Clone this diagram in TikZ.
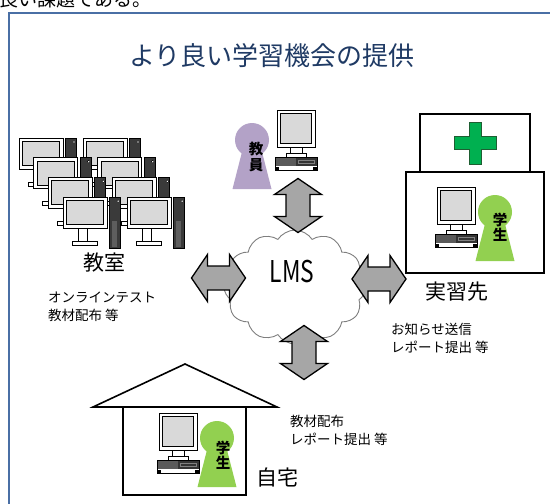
\documentclass[tikz,border=0pt]{standalone}
\usepackage{fontspec}
\setmainfont{Noto Sans CJK JP}
\usetikzlibrary{shapes.symbols}

\definecolor{frameblue}{HTML}{4A6FA5}
\definecolor{titlenavy}{HTML}{1F3A64}
\definecolor{screen}{HTML}{D9D9D9}
\definecolor{arrowgray}{HTML}{A6A6A6}
\definecolor{teacherpurple}{HTML}{B3A2C7}
\definecolor{studentgreen}{HTML}{92D050}
\definecolor{crossgreen}{HTML}{00B050}
\definecolor{crossedge}{HTML}{1E5E32}
\definecolor{cloudgray}{HTML}{7F7F7F}
\definecolor{towerdark}{HTML}{3A3A3A}
\definecolor{towermid}{HTML}{5E5E5E}
\definecolor{caseleft}{HTML}{5A5A5A}
\definecolor{caseright}{HTML}{333333}

\tikzset{
  pcline/.style={draw=black, line width=0.9pt},
  boxline/.style={draw=black, line width=1.8pt},
  fatarrow/.style={draw=black, fill=arrowgray, line width=1.3pt, line join=miter},
  bigtext/.style={font=\fontsize{21}{24}\selectfont, inner sep=0pt},
  smalltext/.style={font=\fontsize{13.5}{17.5}\selectfont, align=left, inner sep=0pt},
  keytext/.style={font=\fontsize{14.5}{15.5}\selectfont\bfseries, align=center, inner sep=0pt},
  % monitor on a stand with a tower case beside it
  pics/towerpc/.style={code={
    \draw[pcline, fill=white] (0,0) rectangle (44,31);
    \draw[pcline, fill=screen] (3.5,3.5) rectangle (40.5,27.5);
    \draw[pcline, fill=white] (15,31) rectangle (24,44);
    \draw[pcline, fill=white] (9,44) rectangle (34,48);
    \draw[pcline, fill=towerdark] (46.5,0) rectangle (57.5,51);
    \fill[towermid] (48.5,24) rectangle (53.5,49.5);
    \draw[fill=white, line width=0.4pt] (55,4) circle (1.4pt);
  }},
  % monitor standing on a flat desktop case
  pics/deskpc/.style={code={
    \draw[pcline, fill=white] (0,0) rectangle (38,37);
    \draw[pcline, fill=screen] (3.5,3.5) rectangle (34.5,33);
    \draw[pcline, fill=white] (13,37) rectangle (25,43);
    \draw[pcline, fill=white] (9,43) rectangle (29,47);
    \draw[pcline, fill=white] (-2,47) rectangle (40,60);
    \fill[caseleft] (-1.5,47.5) rectangle (19,55.5);
    \fill[caseright] (19,47.5) rectangle (39.5,55.5);
    \draw[gray, line width=0.5pt] (21,50) rectangle (37.5,53.5);
    \fill[black] (-2,56.5) rectangle (2,60);
    \fill[black] (36,56.5) rectangle (40,60);
  }},
  % person silhouette in keyhole form
  pics/keyhole/.style={code={
    \fill[#1] (0,0) circle (17pt);
    \fill[#1] (-9,8) -- (9,8) -- (19.5,49) -- (-19.5,49) -- cycle;
  }},
  % thick grey double-headed arrow, 54 long
  pics/dblarrow/.style={code={
    \draw[fatarrow] (-27,0) -- (-11,-23.5) -- (-11,-12) -- (11,-12) -- (11,-23.5)
      -- (27,0) -- (11,23.5) -- (11,12) -- (-11,12) -- (-11,23.5) -- cycle;
  }}
}

\begin{document}
\begin{tikzpicture}[x=1pt, y=-1pt]
\useasboundingbox (0,0) rectangle (550,504);
\clip (0,0) rectangle (550,504);

% line of body text above the frame
\node[anchor=base west, inner sep=0pt, font=\fontsize{19}{21}\selectfont] (bodyline) at (-1,6) {良い課題である。};

% outer frame
\draw[frameblue, line width=1.6pt] (9,560) -- (9,13) -- (600,13);

% title
\node[font=\fontsize{26}{30}\selectfont, text=titlenavy, inner sep=0pt] (title) at (272,56) {より良い学習機会の提供};

% classroom: rows of computers
\foreach \r in {0,...,3}{
  \foreach \c in {0,1}{
    \pic at ({19+14.7*\r+64*\c},{138+19.7*\r}) {towerpc};
  }
}
\node[bigtext] (classroom) at (104.5,263) {教室};
\node[smalltext, anchor=north west] (classnote) at (48,292) {オンラインテスト\\教材配布 等};

% teacher
\pic at (252,140) {keyhole=teacherpurple};
\node[keytext] (teacher) at (256,157) {教\\員};
\pic at (277,110) {deskpc};

% LMS cloud
\node[cloud, cloud puffs=12, cloud puff arc=115, aspect=1.25, draw=cloudgray, fill=white,
      line width=0.9pt, minimum width=142pt, minimum height=114pt, inner sep=0pt] (lms) at (295,287) {};
\node[font=\fontsize{30}{32}\selectfont, inner sep=0pt] (lmstext) at (292,272) {\scalebox{0.76}[1]{LMS}};

% practicum site
\draw[boxline, fill=white] (420,114) rectangle (530,172);
\node[inner sep=0pt, minimum size=0pt] (hospital) at (475,143) {};
\draw[fill=crossgreen, draw=crossedge, line width=1pt]
  (469,122) -- (481,122) -- (481,136.5) -- (496,136.5) -- (496,149) -- (481,149)
  -- (481,164) -- (469,164) -- (469,149) -- (454,149) -- (454,136.5) -- (469,136.5) -- cycle;
\draw[boxline, fill=white] (406,172) rectangle (544,273);
\pic at (437,187) {deskpc};
\pic at (495,212) {keyhole=studentgreen};
\node[keytext] (stpract) at (500,227) {学\\生};
\node[bigtext] (practicum) at (457,292) {実習先};
\node[smalltext, anchor=north west] (practnote) at (391,323) {お知らせ送信\\レポート提出 等};

% home
\draw[boxline, line width=1.6pt, fill=white] (93,407) -- (185,364) -- (277,407) -- cycle;
\draw[boxline, line width=1.6pt] (123,407) -- (123,495) -- (246,495) -- (246,407);
\pic at (159,413) {deskpc};
\pic at (217,438) {keyhole=studentgreen};
\node[keytext] (sthome) at (223,455) {学\\生};
\node[bigtext] (home) at (277,478) {自宅};
\node[smalltext, anchor=north west] (homenote) at (290,415) {教材配布\\レポート提出 等};

% links between the LMS and each place
\pic at (218.5,278) {dblarrow};
\pic at (379,279) {dblarrow};
\pic[rotate=90] at (298,205.5) {dblarrow};
\pic[rotate=90] at (304,352.5) {dblarrow};
\end{tikzpicture}
\end{document}
